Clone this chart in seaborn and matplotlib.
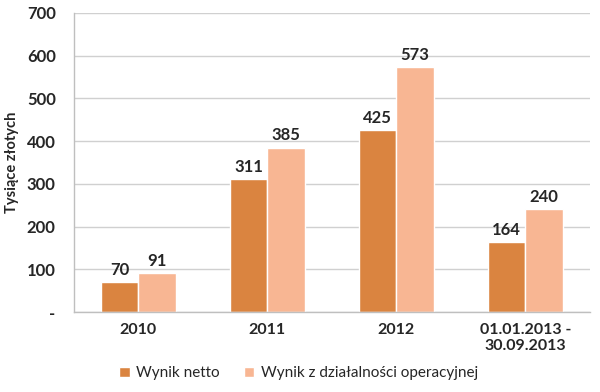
import pandas as pd
import matplotlib.pyplot as plt
import seaborn as sns
from matplotlib.ticker import FixedLocator

sns.set_style("white")
plt.rcParams["font.family"] = ["Lato", "DejaVu Sans"]

# Data
categories = ["2010", "2011", "2012", "01.01.2013 -\n30.09.2013"]
series_names = ["Wynik netto", "Wynik z działalności operacyjnej"]
wynik_netto = [70, 311, 425, 164]
wynik_operacyjny = [91, 385, 573, 240]
y_ticks = [0, 100, 200, 300, 400, 500, 600, 700]
y_tick_labels = ["-", "100", "200", "300", "400", "500", "600", "700"]

colors = ["#DA8440", "#F8B693"]

df = pd.DataFrame({
    "kategoria": categories * 2,
    "seria": [series_names[0]] * 4 + [series_names[1]] * 4,
    "wartosc": wynik_netto + wynik_operacyjny,
})

fig = plt.figure(figsize=(6, 3.92), dpi=100)
ax = fig.add_axes([0.123, 0.204, 0.86, 0.763])

sns.barplot(data=df, x="kategoria", y="wartosc", hue="seria",
            palette=colors, saturation=1, width=0.58, edgecolor="white",
            linewidth=1, ax=ax, legend=True)

for container in ax.containers:
    ax.bar_label(container, fmt="%d", padding=3, fontsize=12, fontweight="bold")

ax.set_ylim(0, 700)
ax.set_xlim(-0.5, len(categories) - 0.5)
ax.set_yticks(y_ticks)
ax.set_yticklabels(y_tick_labels, fontsize=12, fontweight="bold")
ax.set_ylabel("Tysiące złotych", fontsize=10.5, fontweight="bold", labelpad=6)
ax.set_xlabel("")
ax.tick_params(axis="x", labelsize=11.5, length=0, pad=8)
for lbl in ax.get_xticklabels():
    lbl.set_fontweight("bold")

# boundary ticks between categories
ax.xaxis.set_minor_locator(FixedLocator([i + 0.5 for i in range(-1, len(categories))]))
ax.tick_params(axis="x", which="minor", length=5, color="#BFBFBF", width=1, direction="out")
ax.tick_params(axis="y", length=5, color="#BFBFBF", width=1, direction="out", pad=8)

ax.yaxis.grid(True, color="#D0D0D0", linewidth=1)
ax.set_axisbelow(True)
for side in ["top", "right"]:
    ax.spines[side].set_visible(False)
for side in ["left", "bottom"]:
    ax.spines[side].set_color("#BFBFBF")
    ax.spines[side].set_linewidth(1)

ax.legend(loc="center", bbox_to_anchor=(0.435, -0.205), ncol=2, frameon=False,
          fontsize=11, handlelength=0.7, handleheight=0.7, handletextpad=0.4,
          columnspacing=1.6)

fig.savefig("out.png", dpi=100)
